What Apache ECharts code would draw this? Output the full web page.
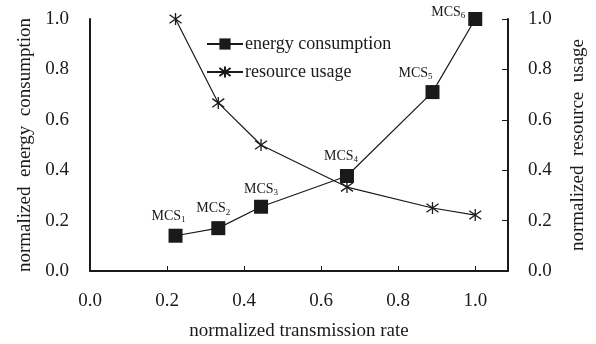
<!DOCTYPE html>
<html>
<head>
<meta charset="utf-8">
<script src="https://cdn.jsdelivr.net/npm/echarts@6/dist/echarts.min.js"></script>
<style>
html,body{margin:0;padding:0;background:#fff;}
#c{width:596px;height:344px;}
</style>
</head>
<body>
<div id="c"></div>
<script>
// ---- data ----
const xValues = [0.222, 0.333, 0.444, 0.667, 0.889, 1.0];
const energy = [0.14, 0.17, 0.255, 0.377, 0.71, 1.0];
const resource = [1.0, 0.667, 0.5, 0.333, 0.25, 0.222];
const mcsSub = ['1', '2', '3', '4', '5', '6'];
const xTickValues = [0.2, 0.4, 0.6, 0.8, 1.0];
const xLabelValues = [0.0, 0.2, 0.4, 0.6, 0.8, 1.0];
const seriesNames = ['energy consumption', 'resource usage'];
const axisNames = ['normalized transmission rate', 'normalized  energy  consumption', 'normalized  resource  usage'];

// ---- chart ----
const FONT = '"Liberation Serif", "Times New Roman", serif';
const INK = '#1a1a1a';
const labelOffsets = [[-7, -19], [-5, -19], [0, -17], [-6, -19], [-17, -18], [-27, -6]];
const STAR = 'path://M-5,-5L5,5M-5,5L5,-5M0,-7L0,7';

const energyData = xValues.map((x, i) => ({
  value: [x, energy[i]],
  label: { offset: labelOffsets[i] },
  sub: mcsSub[i]
}));
const resourceData = xValues.map((x, i) => [x, resource[i]]);

const chart = echarts.init(document.getElementById('c'), null, { renderer: 'canvas' });
const yAxisBase = {
  type: 'value', min: 0, max: 1, interval: 0.2,
  nameLocation: 'middle', nameRotate: 90,
  nameTextStyle: { fontFamily: FONT, fontSize: 19, color: INK },
  axisLine: { show: true, lineStyle: { color: INK, width: 2 } },
  splitLine: { show: false },
  axisLabel: { fontFamily: FONT, fontSize: 19, color: INK, margin: 21, formatter: v => v.toFixed(1) }
};
chart.setOption({
  animation: false,
  backgroundColor: '#fff',
  grid: { left: 90, right: 88, top: 19, bottom: 73, containLabel: false, outerBoundsMode: 'none' },
  legend: {
    orient: 'vertical', left: 201, top: 30,
    itemWidth: 36, itemHeight: 14, itemGap: 10,
    textStyle: { fontFamily: FONT, fontSize: 18, color: INK, padding: [0, 0, 0, -3] },
    data: seriesNames
  },
  xAxis: {
    type: 'value', min: 0, max: 1.085,
    name: axisNames[0], nameLocation: 'middle', nameGap: 51,
    nameTextStyle: { fontFamily: FONT, fontSize: 19, color: INK },
    axisLine: { lineStyle: { color: INK, width: 2 } },
    axisTick: { show: true, inside: true, length: 5, customValues: xTickValues, lineStyle: { color: INK, width: 1 } },
    axisLabel: { fontFamily: FONT, fontSize: 19, color: INK, margin: 21, customValues: xLabelValues, formatter: v => v.toFixed(1) },
    splitLine: { show: false }
  },
  yAxis: [
    Object.assign({}, yAxisBase, { position: 'left', name: axisNames[1], nameGap: 55, axisTick: { show: false } }),
    Object.assign({}, yAxisBase, {
      position: 'right', name: axisNames[2], nameGap: 61, nameRotate: 90,
      axisTick: { show: true, inside: true, length: 6, lineStyle: { color: INK, width: 1 } },
      axisLabel: Object.assign({}, yAxisBase.axisLabel, { margin: 20 })
    })
  ],
  series: [
    {
      name: seriesNames[0], type: 'line', yAxisIndex: 0, data: energyData,
      symbol: 'rect', symbolSize: 14,
      itemStyle: { color: INK },
      lineStyle: { color: INK, width: 1.2 },
      label: {
        show: true, position: 'inside',
        formatter: p => '{m|MCS}{s|' + p.data.sub + '}',
        rich: {
          m: { fontFamily: FONT, fontSize: 14, color: INK, lineHeight: 15, verticalAlign: 'top' },
          s: { fontFamily: FONT, fontSize: 9, color: INK, lineHeight: 15, verticalAlign: 'bottom' }
        }
      },
      z: 3
    },
    {
      name: seriesNames[1], type: 'line', yAxisIndex: 1, data: resourceData,
      symbol: STAR, symbolSize: 12,
      itemStyle: { color: 'none', borderColor: INK, borderWidth: 1.3 },
      lineStyle: { color: INK, width: 1.2 },
      z: 2
    }
  ]
});
</script>
</body>
</html>
